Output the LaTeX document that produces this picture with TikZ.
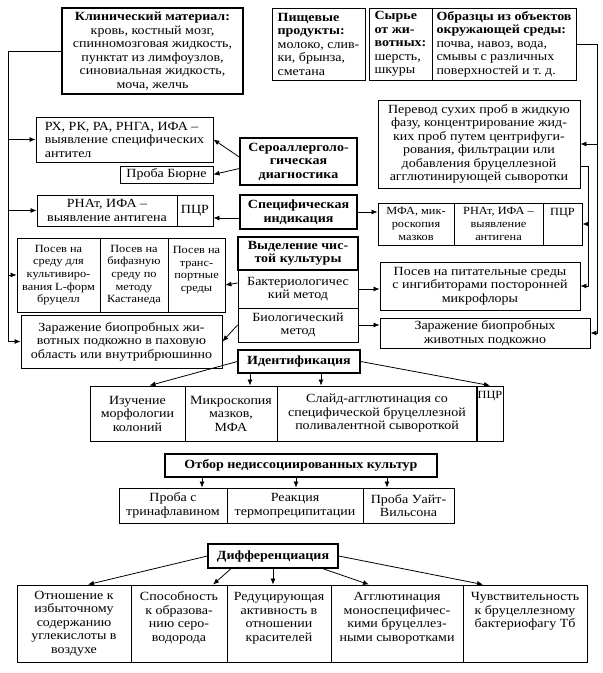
\documentclass[tikz,border=0pt]{standalone}
\usepackage{fontspec}
\setmainfont{Liberation Serif}[FakeStretch=1.12]
\usetikzlibrary{arrows.meta,calc}
\tikzset{
 box/.style={draw, line width=0.9pt, inner sep=1pt, align=center, font=\fontsize{12.5}{13.5}\selectfont},
 tbox/.style={line width=1.4pt, font=\fontsize{12.5}{13.5}\selectfont\bfseries},
 lbox/.style={align=left},
 sbox/.style={font=\fontsize{11}{12.6}\selectfont},
 arr/.style={line width=0.8pt, -{Latex[length=6pt,width=5pt]}},
 ln/.style={line width=0.8pt}
}
\newcommand\bx[7][]{\pgfmathsetmacro\bw{#5-#3}\pgfmathsetmacro\bh{#6-#4}%
 \node[box,minimum width=\bw pt,minimum height=\bh pt,#1] (#2) at ({(#3+#5)/2},{(#4+#6)/2}) {#7};}
\begin{document}
\begin{tikzpicture}[x=1pt,y=-1pt]
\useasboundingbox (0,0) rectangle (603,673);
\fill[white] (0,0) rectangle (603,673);
% top row
\bx[line width=1.4pt]{klin}{62}{8}{243}{94}{\textbf{Клинический материал:}\\ кровь, костный мозг,\\ спинномозговая жидкость,\\ пунктат из лимфоузлов,\\ синовиальная жидкость,\\ моча, желчь}
\bx[lbox]{pish}{272}{8}{365}{80}{\textbf{Пищевые}\\ \textbf{продукты:}\\ молоко, слив-\\ ки, брынза,\\ сметана}
\bx[lbox]{syr}{369}{8}{432}{80}{\textbf{Сырье}\\ \textbf{от жи-}\\ \textbf{вотных:}\\ шерсть,\\ шкуры}
\bx[lbox]{obr}{432}{8}{576}{80}{\textbf{Образцы из объектов}\\ \textbf{окружающей среды:}\\ почва, навоз, вода,\\ смывы с различных\\ поверхностей и т.~д.}
% left column
\bx[lbox]{rx}{36}{117}{213}{162}{РХ, РК, РА, РНГА, ИФА –\\ выявление специфических\\ антител}
\bx{burne}{120}{166}{213}{183}{Проба Бюрне}
\bx{rnat}{37}{195}{177}{226}{РНАт, ИФА –\\ выявление антигена}
\bx{rnatP}{177}{195}{213}{226}{ПЦР}
\bx[sbox]{posA}{17}{238}{100}{312}{Посев на\\ среду для\\ культивиро-\\ вания L-форм\\ бруцелл}
\bx[sbox]{posB}{100}{238}{168}{312}{Посев на\\ бифазную\\ среду по\\ методу\\ Кастанеда}
\bx[sbox]{posC}{168}{238}{225}{312}{Посев на\\ транс-\\ портные\\ среды\\ \mbox{}}
\bx{zarL}{21}{315}{222}{368}{Заражение биопробных жи-\\ вотных подкожно в паховую\\ область или внутрибрюшинно}
% centre column
\bx[tbox]{sero}{240}{138}{357}{185}{Сероаллерголо-\\ гическая\\ диагностика}
\bx[tbox]{spec}{240}{195}{357}{229}{Специфическая\\ индикация}
\bx[tbox]{vyd}{238}{237}{358}{270}{Выделение чис-\\ той культуры}
\bx{bakt}{238}{270}{358}{308}{Бактериологичес\\ кий метод}
\bx{bio}{238}{308}{358}{342}{Биологический\\ метод}
\bx[tbox]{ident}{238}{350}{360}{373}{Идентификация}
% right column
\bx{perevod}{378}{100}{580}{188}{Перевод сухих проб в жидкую\\ фазу, концентрирование жид-\\ ких проб путем центрифуги-\\ рования, фильтрации или\\ добавления бруцеллезной\\ агглютинирующей сыворотки}
\bx[sbox]{mfa}{378}{203}{454}{245}{МФА, мик-\\ роскопия\\ мазков}
\bx[sbox]{rnatB}{454}{203}{543}{245}{РНАт, ИФА –\\ выявление\\ антигена}
\bx[sbox]{pcrB}{543}{203}{582}{245}{ПЦР\\ \mbox{}\\ \mbox{}}
\bx{posR}{380}{262}{580}{310}{Посев на питательные среды\\ с ингибиторами посторонней\\ микрофлоры}
\bx{zarR}{380}{318}{590}{348}{Заражение биопробных\\ животных подкожно}
% identification row
\bx{izuch}{90}{386}{185}{441}{Изучение\\ морфологии\\ колоний}
\bx{mikro}{185}{386}{277}{441}{Микроскопия\\ мазков,\\ МФА}
\bx{slaid}{277}{386}{477}{441}{Слайд-агглютинация со\\ специфической бруцеллезной\\ поливалентной сывороткой}
\bx[sbox]{pcrC}{477}{386}{503}{441}{ПЦР\\ \mbox{}\\ \mbox{}\\ \mbox{}}
% otbor
\bx[tbox]{otbor}{165}{454}{437}{477}{Отбор недиссоциированных культур}
\bx{trin}{119}{488}{227}{523}{Проба с\\ тринафлавином}
\bx{termo}{227}{488}{363}{523}{Реакция\\ термопреципитации}
\bx{uait}{363}{488}{454}{523}{Проба Уайт-\\ Вильсона}
% differentiation
\bx[tbox]{diff}{208}{544}{338}{568}{Дифференциация}
\bx{otn}{17}{585}{131}{662}{Отношение к\\ избыточному\\ содержанию\\ углекислоты в\\ воздухе}
\bx{spos}{131}{585}{227}{662}{Способность\\ к образова-\\ нию серо-\\ водорода\\ \mbox{}}
\bx{red}{227}{585}{331}{662}{Редуцирующая\\ активность в\\ отношении\\ красителей\\ \mbox{}}
\bx{aggl}{331}{585}{463}{662}{Агглютинация\\ моноспецифичес-\\ кими бруцеллез-\\ ными сыворотками\\ \mbox{}}
\bx{chuv}{463}{585}{587}{662}{Чувствительность\\ к бруцеллезному\\ бактериофагу Тб\\ \mbox{}\\ \mbox{}}
% left bus
\coordinate (lb) at (8,52);
\draw[arr] (klin.west) -- (klin.west -| lb) -- (lb |- zarL.west) -- (zarL.west);
\draw[arr] (lb |- rx.west) -- (rx.west);
\draw[arr] (lb |- rnat.west) -- (rnat.west);
\draw[arr] (lb |- posA.west) -- (posA.west);
% right buses
\coordinate (rb) at (597,0);
\coordinate (ib) at (588,0);
\draw[arr] (obr.east) -- (obr.east -| rb) -- (rb |- zarR.east) -- (zarR.east);
\draw[arr] (rb |- perevod.east) -- (perevod.east);
\coordinate (pout) at ([yshift=22pt]perevod.south east);
\draw[arr] (pout) -- (pout -| ib) -- (ib |- posR.east) -- (posR.east);
\draw[arr] (ib |- pcrB.east) -- (pcrB.east);
% centre arrows
\draw[arr] ([yshift=4.5pt]sero.west) -- (rx.east);
\draw[arr] ([yshift=-7pt]sero.west) -- (burne.east);
\draw[arr] ([yshift=-6pt]spec.west) -- ([yshift=-6pt]spec.west -| rnatP.east);
\draw[arr] (spec.east) -- (spec.east -| mfa.west);
\draw[arr] ([yshift=6pt]bakt.west) -- ([yshift=-10pt]posC.east);
\draw[arr] (bakt.east) -- (bakt.east -| posR.west);
\draw[arr] (bio.west) -- (zarL.east);
\draw[arr] (bio.east) -- (bio.east -| zarR.west);
% identification arrows
\draw[arr] (ident.west) -- ([xshift=12pt]izuch.north);
\draw[arr] ([xshift=-49pt]ident.south) -- ([xshift=-49pt]ident.south |- mikro.north);
\draw[arr] ([xshift=22pt]ident.south) -- ([xshift=22pt]ident.south |- slaid.north);
\draw[arr] (ident.east) -- (pcrC.north);
% otbor arrows
\draw[arr] ([xshift=-99pt]otbor.south) -- ([xshift=-99pt]otbor.south |- trin.north);
\draw[arr] ([xshift=-5pt]otbor.south) -- ([xshift=-5pt]otbor.south |- termo.north);
\draw[arr] ([xshift=86pt]otbor.south) -- ([xshift=86pt]otbor.south |- uait.north);
% differentiation arrows
\draw[arr] (diff.west) -- ([xshift=14pt]otn.north);
\draw[arr] ([xshift=-42pt]diff.south) -- ([xshift=34pt]spos.north);
\draw[arr] (diff.south) -- (diff.south |- red.north);
\draw[arr] ([xshift=50pt]diff.south) -- ([xshift=-28pt]aggl.north);
\draw[arr] (diff.east) -- ([xshift=-42pt]chuv.north);
\end{tikzpicture}
\end{document}
